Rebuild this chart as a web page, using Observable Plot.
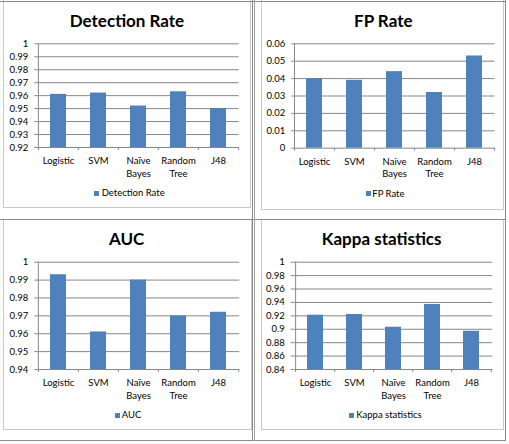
<!DOCTYPE html>
<html>
<head>
<meta charset="utf-8">
<script src="https://cdn.jsdelivr.net/npm/d3@7"></script>
<script src="https://cdn.jsdelivr.net/npm/@observablehq/plot@0.6"></script>
<style>
  html, body { margin: 0; padding: 0; background: #fff; }
  #root { position: relative; width: 509px; height: 444px; overflow: hidden; font-family: Lato, "Open Sans", sans-serif; }
  .abs { position: absolute; }
  .line { position: absolute; background: #8a8a8a; }
  .box { position: absolute; border: 1px solid #c8c8c8; box-sizing: border-box; }
  .title { position: absolute; text-align: center; font-weight: bold; font-size: 17px; color: #000; white-space: nowrap; }
  .legtext { position: absolute; font-size: 9.5px; color: #000; white-space: nowrap; }
  .legsq { position: absolute; width: 5px; height: 5px; background: #4F81BD; }
</style>
</head>
<body>
<div id="root"></div>
<script>
// ---- data ----
const categories = ["Logistic", "SVM", "Naïve\nBayes", "Random\nTree", "J48"];
const categoriesFP = ["Logistic", "SVM", "Naive\nBayes", "Random\nTree", "J48"];
const detectionRate = [0.961, 0.962, 0.952, 0.963, 0.950];
const fpRate = [0.040, 0.039, 0.044, 0.032, 0.053];
const aucValues = [0.993, 0.961, 0.990, 0.970, 0.972];
const kappaValues = [0.921, 0.922, 0.903, 0.937, 0.897];
const detectionTicks = [0.92, 0.93, 0.94, 0.95, 0.96, 0.97, 0.98, 0.99, 1];
const fpTicks = [0, 0.01, 0.02, 0.03, 0.04, 0.05, 0.06];
const aucTicks = [0.94, 0.95, 0.96, 0.97, 0.98, 0.99, 1];
const kappaTicks = [0.84, 0.86, 0.88, 0.9, 0.92, 0.94, 0.96, 0.98, 1];
const titles = ["Detection Rate", "FP Rate", "AUC", "Kappa statistics"];

// ---- layout ----
const panels = [
  {title: titles[0], cats: categories, values: detectionRate, ticks: detectionTicks,
   left: 0, top: 0, w: 252, h: 218, fx: [37.3, 238.7], fy: [43.3, 147],
   tx: 127, ty: 21, lsx: 94.3, lsy: 191, ltx: 101.7, lty: 193.3},
  {title: titles[1], cats: categoriesFP, values: fpRate, ticks: fpTicks,
   left: 256, top: 0, w: 250, h: 218, fx: [294.3, 494.5], fy: [43.3, 147.7],
   tx: 383.3, ty: 20.7, lsx: 365.5, lsy: 191.3, ltx: 372.3, lty: 193.7},
  {title: titles[2], cats: categories, values: aucValues, ticks: aucTicks,
   left: 0, top: 220, w: 252, h: 218, fx: [37.3, 239.3], fy: [261.7, 369],
   tx: 126.7, ty: 239, lsx: 115, lsy: 412.7, ltx: 121.7, lty: 415},
  {title: titles[3], cats: categories, values: kappaValues, ticks: kappaTicks,
   left: 256, top: 220, w: 250, h: 218, fx: [293.7, 492.3], fy: [261.7, 369],
   tx: 381.7, ty: 239, lsx: 348.7, lsy: 412.7, ltx: 356.3, lty: 415}
];

const root = document.getElementById("root");
function addDiv(cls, style, text) {
  const d = document.createElement("div");
  d.className = cls;
  Object.assign(d.style, style);
  if (text != null) d.textContent = text;
  root.appendChild(d);
  return d;
}

// chart boxes
addDiv("box", {left: "3px", top: "-1px", width: "248px", height: "209px"});
addDiv("box", {left: "261px", top: "-1px", width: "243px", height: "211px"});
addDiv("box", {left: "3px", top: "219px", width: "249px", height: "211px"});
addDiv("box", {left: "261px", top: "219px", width: "243px", height: "211px"});

const fmt = d => String(+d.toFixed(2));

panels.forEach(p => {
  const data = p.cats.map((c, i) => ({cat: c, v: p.values[i]}));
  const ymin = p.ticks[0], ymax = p.ticks[p.ticks.length - 1];
  const frameW = p.fx[1] - p.fx[0], frameH = p.fy[1] - p.fy[0];
  const step = frameW / p.cats.length;
  const tickDrop = ymin - 3 * (ymax - ymin) / frameH;
  const grid = "#868686";
  const chart = Plot.plot({
    width: p.w, height: p.h,
    marginLeft: p.fx[0] - p.left,
    marginRight: p.left + p.w - p.fx[1],
    marginTop: p.fy[0] - p.top,
    marginBottom: p.top + p.h - p.fy[1],
    style: {fontFamily: "Lato, 'Open Sans', sans-serif", background: "transparent", overflow: "visible"},
    x: {domain: p.cats, paddingInner: 0.6, paddingOuter: 0.3, label: null},
    y: {domain: [ymin, ymax], label: null},
    marks: [
      Plot.ruleY(p.ticks, {y: d => d, stroke: grid, strokeWidth: 1}),
      Plot.barY(data, {x: "cat", y1: ymin, y2: "v", fill: "#4F81BD"}),
      Plot.ruleX([p.cats[0]], {x: d => d, y1: ymin, y2: ymax, dx: -step / 2, stroke: grid}),
      Plot.ruleX(p.cats, {x: d => d, y1: ymin, y2: tickDrop, dx: -step / 2, stroke: grid}),
      Plot.ruleX([p.cats[p.cats.length - 1]], {x: d => d, y1: ymin, y2: tickDrop, dx: step / 2, stroke: grid}),
      Plot.axisY({ticks: p.ticks, tickFormat: fmt, tickSize: 3, tickPadding: 6.5, stroke: grid, fill: "#000", fontSize: 9.5, dx: -step / 2 + step / 2}),
      Plot.axisX({tickSize: 0, tickPadding: 8, fontSize: 9.5, lineHeight: 1.3, fill: "#000"})
    ]
  });
  chart.style.position = "absolute";
  chart.style.left = p.left + "px";
  chart.style.top = p.top + "px";
  root.appendChild(chart);

  addDiv("title", {left: (p.tx - 100) + "px", width: "200px", top: (p.ty - 12) + "px", height: "24px", lineHeight: "24px"}, p.title);
  addDiv("legsq", {left: p.lsx + "px", top: p.lsy + "px"});
  addDiv("legtext", {left: p.ltx + "px", top: (p.lty - 7) + "px", height: "14px", lineHeight: "14px"}, p.title);
});

// table lines
addDiv("line", {left: "0px", top: "1px", width: "506px", height: "1px"});
addDiv("line", {left: "0px", top: "219px", width: "506px", height: "1px"});
addDiv("line", {left: "0px", top: "440px", width: "506px", height: "1px"});
addDiv("line", {left: "252px", top: "0px", width: "1px", height: "441px"});
addDiv("line", {left: "254px", top: "0px", width: "1px", height: "441px", background: "#a0a0a0"});
addDiv("line", {left: "505px", top: "0px", width: "1px", height: "441px"});
</script>
</body>
</html>
